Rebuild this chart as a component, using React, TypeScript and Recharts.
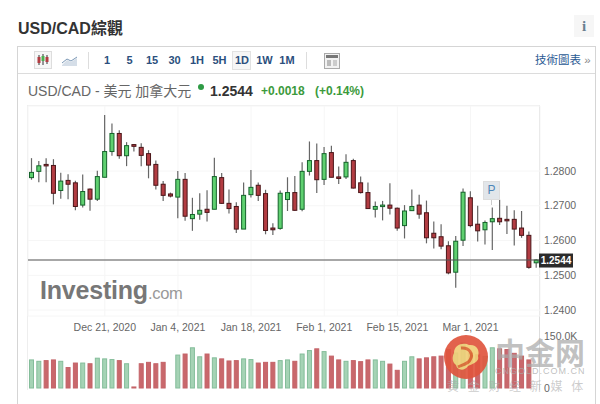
import React from "react";
import { ComposedChart, Bar, XAxis, YAxis, CartesianGrid, ReferenceLine } from "recharts";

const dates = [
  "Dec 7, 2020","Dec 8, 2020","Dec 9, 2020","Dec 10, 2020","Dec 11, 2020",
  "Dec 14, 2020","Dec 15, 2020","Dec 16, 2020","Dec 17, 2020","Dec 18, 2020",
  "Dec 21, 2020","Dec 22, 2020","Dec 23, 2020","Dec 24, 2020","Dec 25, 2020",
  "Dec 28, 2020","Dec 29, 2020","Dec 30, 2020","Dec 31, 2020","Jan 1, 2021",
  "Jan 4, 2021","Jan 5, 2021","Jan 6, 2021","Jan 7, 2021","Jan 8, 2021",
  "Jan 11, 2021","Jan 12, 2021","Jan 13, 2021","Jan 14, 2021","Jan 15, 2021",
  "Jan 18, 2021","Jan 19, 2021","Jan 20, 2021","Jan 21, 2021","Jan 22, 2021",
  "Jan 25, 2021","Jan 26, 2021","Jan 27, 2021","Jan 28, 2021","Jan 29, 2021",
  "Feb 1, 2021","Feb 2, 2021","Feb 3, 2021","Feb 4, 2021","Feb 5, 2021",
  "Feb 8, 2021","Feb 9, 2021","Feb 10, 2021","Feb 11, 2021","Feb 12, 2021",
  "Feb 15, 2021","Feb 16, 2021","Feb 17, 2021","Feb 18, 2021","Feb 19, 2021",
  "Feb 22, 2021","Feb 23, 2021","Feb 24, 2021","Feb 25, 2021","Feb 26, 2021",
  "Mar 1, 2021","Mar 2, 2021","Mar 3, 2021","Mar 4, 2021","Mar 5, 2021",
  "Mar 8, 2021","Mar 9, 2021","Mar 10, 2021","Mar 11, 2021","Mar 12, 2021",
];
const opens = [
  1.2781,1.2799,1.2819,1.2816,1.2744,1.2773,1.2766,1.2702,1.2748,1.2719,
  1.2782,1.2856,1.2908,1.2844,1.2876,1.2868,1.2850,1.2819,1.2762,1.2734,
  1.2725,1.2776,1.2663,1.2676,1.2690,1.2690,1.2781,1.2707,1.2698,1.2633,
  1.2732,1.2759,1.2735,1.2636,1.2635,1.2718,1.2738,1.2690,1.2799,1.2830,
  1.2776,1.2853,1.2783,1.2783,1.2830,1.2766,1.2738,1.2690,1.2698,1.2702,
  1.2693,1.2643,1.2686,1.2702,1.2680,1.2621,1.2611,1.2585,1.2509,1.2601,
  1.2723,1.2647,1.2631,1.2654,1.2664,1.2661,1.2661,1.2636,1.2615,1.2536,
];
const closes = [
  1.2796,1.2815,1.2815,1.2736,1.2771,1.2762,1.2698,1.2741,1.2719,1.2784,
  1.2856,1.2908,1.2844,1.2873,1.2871,1.2845,1.2817,1.2759,1.2730,1.2728,
  1.2776,1.2670,1.2675,1.2687,1.2681,1.2784,1.2707,1.2692,1.2633,1.2730,
  1.2753,1.2730,1.2629,1.2631,1.2736,1.2738,1.2687,1.2799,1.2830,1.2775,
  1.2850,1.2782,1.2781,1.2825,1.2751,1.2738,1.2692,1.2698,1.2702,1.2693,
  1.2636,1.2685,1.2698,1.2676,1.2608,1.2608,1.2584,1.2507,1.2598,1.2739,
  1.2643,1.2628,1.2652,1.2663,1.2654,1.2659,1.2633,1.2615,1.2523,1.2544,
];
const highs = [
  1.2837,1.2829,1.2837,1.2834,1.2795,1.2791,1.2772,1.2790,1.2750,1.2801,
  1.2961,1.2937,1.2917,1.2883,1.2878,1.2880,1.2860,1.2830,1.2771,1.2738,
  1.2800,1.2794,1.2723,1.2736,1.2745,1.2838,1.2794,1.2747,1.2710,1.2767,
  1.2803,1.2767,1.2746,1.2650,1.2744,1.2782,1.2786,1.2825,1.2885,1.2879,
  1.2869,1.2873,1.2813,1.2848,1.2835,1.2784,1.2767,1.2712,1.2714,1.2765,
  1.2695,1.2702,1.2747,1.2732,1.2715,1.2655,1.2647,1.2598,1.2613,1.2750,
  1.2742,1.2700,1.2658,1.2695,1.2717,1.2700,1.2687,1.2685,1.2626,1.2546,
];
const lows = [
  1.2775,1.2768,1.2768,1.2704,1.2720,1.2719,1.2687,1.2695,1.2686,1.2714,
  1.2782,1.2844,1.2835,1.2814,1.2856,1.2814,1.2779,1.2747,1.2714,1.2724,
  1.2664,1.2657,1.2628,1.2660,1.2655,1.2690,1.2705,1.2678,1.2622,1.2633,
  1.2724,1.2714,1.2618,1.2616,1.2631,1.2685,1.2685,1.2684,1.2787,1.2737,
  1.2760,1.2782,1.2763,1.2777,1.2750,1.2735,1.2692,1.2666,1.2658,1.2675,
  1.2628,1.2606,1.2685,1.2663,1.2592,1.2577,1.2575,1.2503,1.2464,1.2584,
  1.2638,1.2597,1.2589,1.2573,1.2645,1.2619,1.2586,1.2608,1.2519,1.2522,
];
const volumes = [
  81,77,79,81,77,59,72,72,70,86,
  84,82,79,70,3,70,74,70,74,0,
  95,98,116,90,98,87,84,78,79,84,
  82,72,74,74,79,81,77,98,108,113,
  105,92,81,77,79,76,81,81,77,69,
  51,77,90,84,87,90,92,111,101,130,
  101,96,91,116,113,111,100,92,81,0,
];
const xTicks = ["Dec 21, 2020","Jan 4, 2021","Jan 18, 2021","Feb 1, 2021","Feb 15, 2021","Mar 1, 2021"];
const priceTicks = [1.24,1.25,1.2544,1.26,1.27,1.28];
const volTicks = [0,150];
const intervals = ["1","5","15","30","1H","5H","1D","1W","1M"];
const lastPrice = 1.2544;

const rows = dates.map((date,i)=>({date,open:opens[i],close:closes[i],high:highs[i],low:lows[i],volume:volumes[i]}));

const Candle = (p:any)=>{
  const {x,y,width,height,payload}=p;
  const cx=x+width/2;
  const top=Math.min(y,y+height);
  const h=Math.abs(height);
  const k=h/(payload.high-payload.low||1);
  const yO=top+(payload.high-payload.open)*k;
  const yC=top+(payload.high-payload.close)*k;
  const up=payload.close>=payload.open;
  const by=Math.min(yO,yC);
  const bh=Math.max(Math.abs(yO-yC),1.5);
  return <g>
    <line x1={cx} x2={cx} y1={top} y2={top+h} stroke="#666" strokeWidth={1.2}/>
    <rect x={cx-2} y={by} width={4} height={bh} fill={up?"#5fd070":"#b23c42"} stroke={up?"#14632a":"#4a1518"} strokeWidth={1}/>
  </g>;
};
const VolBar = (p:any)=>{
  const {x,y,width,height,payload}=p;
  const up=payload.close>=payload.open;
  if(!payload.volume) return null;
  return <rect x={x+0.5} y={y} width={width-1} height={height} fill={up?"#a5d3b5":"#c9686c"} stroke={up?"#84bd9a":"#c46368"} strokeWidth={1}/>;
};
const PriceTick = (p:any)=>{
  const {y,payload}=p;
  if(payload.value===lastPrice){
    return <g>
      <rect x={539} y={y-6.5} width={34} height={14} fill="#2b2b2b"/>
      <text x={556} y={y+4} textAnchor="middle" fontSize={10} fontWeight={700} fill="#fff" fontFamily="Liberation Sans">{payload.value.toFixed(4)}</text>
    </g>;
  }
  return <text x={544} y={y+3.5} fontSize={10.5} fill="#666" fontFamily="Liberation Sans">{payload.value.toFixed(4)}</text>;
};
const VolTick = (p:any)=>{
  const {y,payload}=p;
  return <text x={544} y={y+3.5} fontSize={10.5} fill="#666" fontFamily="Liberation Sans">{payload.value===0?"0":payload.value.toFixed(1)+"K"}</text>;
};

const abs=(o:React.CSSProperties):React.CSSProperties=>({position:"absolute",whiteSpace:"nowrap",...o});
const sans="'Liberation Sans', 'Noto Sans CJK TC', sans-serif";

export default function App(){
  return <div style={{position:"absolute",left:0,top:0,width:600,height:404,overflow:"hidden",background:"#fff",fontFamily:sans}}>
    <div style={abs({left:18,top:15,fontSize:16,fontWeight:700,color:"#333",fontFamily:sans})}>USD/CAD綜觀</div>
    <div style={abs({left:574,top:15,width:20,height:22,background:"#f6f6f6",textAlign:"center",fontFamily:"'Liberation Serif'",fontSize:15,fontWeight:700,color:"#6a7f90",lineHeight:"22px"})}>i</div>

    <div style={abs({left:17,top:46,width:579,height:360,border:"1px solid #d5d5d5",boxSizing:"border-box"})}/>
    <div style={abs({left:18,top:73,width:577,height:1,background:"#dcdcdc"})}/>
    <div style={abs({left:34,top:51,width:18,height:18,border:"1px solid #ddd",background:"#f7f7f7",boxSizing:"border-box"})}/>
    <svg style={abs({left:34,top:51})} width="60" height="18">
      <line x1="5" x2="5" y1="4" y2="14" stroke="#333"/><rect x="3.5" y="6" width="3" height="6" fill="#b23c42"/>
      <line x1="9" x2="9" y1="3" y2="14" stroke="#333"/><rect x="7.5" y="5" width="3" height="5" fill="#4caf50"/>
      <line x1="13" x2="13" y1="4" y2="13" stroke="#333"/><rect x="11.5" y="6" width="3" height="5" fill="#b23c42"/>
      <path d="M28 14 L33 9 L37 11 L43 7 L43 15 L28 15 Z" fill="#d5dee8"/>
      <path d="M28 12 L33 8 L37 10 L43 6" fill="none" stroke="#7a97b5"/>
    </svg>
    <div style={abs({left:88,top:52,width:1,height:17,background:"#ddd"})}/>
    <div style={abs({left:232,top:51,width:19,height:19,border:"1px solid #e2e2e2",background:"#f6f6f6",boxSizing:"border-box"})}/>
    {intervals.map((t,i)=><div key={t} style={abs({left:107+i*22.5-12,width:24,top:53,textAlign:"center",fontSize:11,fontWeight:700,color:"#2b4f7d",lineHeight:"15px"})}>{t}</div>)}
    <div style={abs({left:306,top:52,width:1,height:17,background:"#ddd"})}/>
    <svg style={abs({left:323,top:52})} width="18" height="18">
      <rect x="1.5" y="1.5" width="15" height="15" fill="#f2f2f2" stroke="#aaa"/><rect x="3" y="3" width="12" height="3" fill="#777"/><rect x="4" y="8" width="4" height="6" fill="#bbb"/><rect x="10" y="8" width="4" height="6" fill="#ccc"/>
    </svg>
    <div style={abs({left:535,top:52,fontSize:11.5,color:"#2b5a94",lineHeight:"16px"})}>技術圖表 <span style={{color:"#888"}}>»</span></div>

    <div style={abs({left:28,top:82,fontSize:14,color:"#666",lineHeight:"18px"})}>USD/CAD - 美元 加拿大元</div>
    <div style={abs({left:198,top:84,width:6,height:6,borderRadius:3,background:"#2e9b45"})}/>
    <div style={abs({left:210,top:82,fontSize:14,fontWeight:700,color:"#333",lineHeight:"18px"})}>1.2544</div>
    <div style={abs({left:261,top:83,fontSize:12,fontWeight:700,color:"#3c9a3c",lineHeight:"16px"})}>+0.0018</div>
    <div style={abs({left:315,top:83,fontSize:12,fontWeight:700,color:"#3c9a3c",lineHeight:"16px"})}>(+0.14%)</div>

    <div style={abs({left:27,top:105,width:513,height:285,borderTop:"1px solid #eee",borderLeft:"1px solid #eee",borderRight:"1px solid #ddd",boxSizing:"border-box"})}/>

    <div style={abs({left:0,top:0})}>
      <ComposedChart width={600} height={340} data={rows} margin={{top:106,right:0,bottom:0,left:28}} barCategoryGap={0}>
        <CartesianGrid stroke="#f6f6f6" />
        <XAxis dataKey="date" ticks={xTicks} interval={0} height={24} axisLine={false} tickLine={false} tickMargin={2} tick={{fontSize:10.5,fill:"#666",fontFamily:"Liberation Sans"}}/>
        <YAxis orientation="right" width={60} domain={[1.2383,1.2987]} allowDataOverflow ticks={priceTicks} interval={0} axisLine={false} tickLine={false} tick={<PriceTick/>}/>
        <ReferenceLine y={lastPrice} stroke="#555" strokeWidth={1.2}/>
        <Bar dataKey={(d:any)=>[d.low,d.high]} barSize={7} shape={<Candle/>} isAnimationActive={false}/>
      </ComposedChart>
    </div>
    <div style={abs({left:0,top:330})}>
      <ComposedChart width={600} height={62} data={rows} margin={{top:6,right:0,bottom:4,left:28}}>
        <XAxis dataKey="date" hide/>
        <YAxis orientation="right" width={60} domain={[0,150]} ticks={volTicks} interval={0} axisLine={false} tickLine={false} tick={<VolTick/>}/>
        <Bar dataKey="volume" barSize={5} shape={<VolBar/>} isAnimationActive={false}/>
      </ComposedChart>
    </div>

    <div style={abs({left:40,top:273,fontSize:25,fontWeight:700,color:"#777",letterSpacing:-0.2,lineHeight:"34px"})}>Investing<span style={{fontWeight:400,fontSize:16.5,letterSpacing:-0.3,color:"#999"}}>.com</span></div>

    <div style={abs({left:483,top:181,width:17,height:19,background:"#e2e6ea",border:"1px solid #ddd",boxSizing:"border-box",textAlign:"center",fontSize:12,color:"#4f86b8",lineHeight:"17px"})}>P</div>
    <div style={abs({left:491,top:200,width:1,height:5,background:"#ccc"})}/>

    <svg style={abs({left:444,top:335,opacity:0.92})} width="44" height="44">
      <circle cx="22" cy="22" r="22" fill="#e0553e"/>
      <path d="M10 18 C10 9 20 7 25 10 C33 9 36 16 34 21 C36 27 28 29 24 31 C20 37 13 35 12 30 C8 27 8 22 10 18 Z" fill="#f0cf78"/>
      <path d="M17 13 C25 12 30 19 26 25 C24 29 18 30 14 32" fill="none" stroke="#dc6a34" strokeWidth="3"/>
    </svg>
    <div style={abs({left:495,top:332,fontSize:30,fontWeight:700,color:"rgba(170,170,170,0.72)",fontFamily:"'Noto Sans CJK SC'",lineHeight:"38px"})}>中金网</div>
    <div style={abs({left:495,top:366,fontSize:9,letterSpacing:1,color:"rgba(170,170,170,0.75)",lineHeight:"11px"})}>CNGOLD.COM.CN</div>
    <div style={abs({left:447,top:378,fontSize:12,letterSpacing:8.7,color:"rgba(170,170,170,0.6)",fontFamily:"'Noto Sans CJK SC'",lineHeight:"16px"})}>黄金财经新媒体</div>
  </div>;
}
